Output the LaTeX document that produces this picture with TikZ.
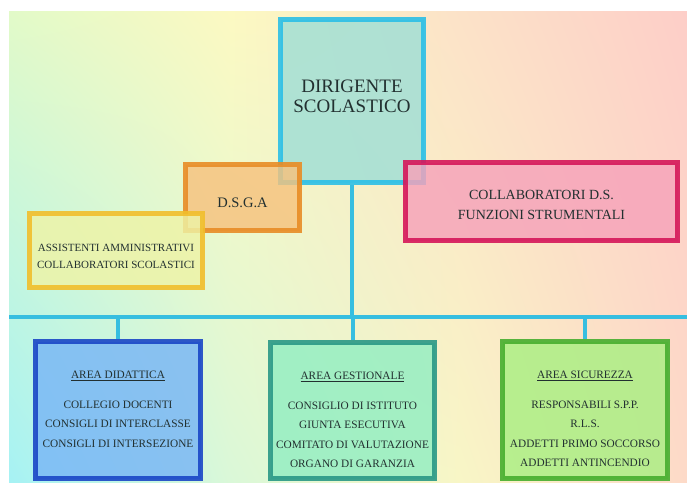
\documentclass[tikz,border=0pt]{standalone}
\usepackage{fontspec}
\setmainfont{Liberation Serif}
\usetikzlibrary{positioning,shadings}

\definecolor{dirFill}{HTML}{9FDFD6}
\definecolor{dirLine}{HTML}{2CBFE6}
\definecolor{dsgaFill}{HTML}{F6C27E}
\definecolor{dsgaLine}{HTML}{E88C26}
\definecolor{assFill}{HTML}{EEF3A6}
\definecolor{assLine}{HTML}{F1BE2C}
\definecolor{colFill}{HTML}{F6A2BA}
\definecolor{colLine}{HTML}{D5175A}
\definecolor{didFill}{HTML}{78B6F6}
\definecolor{didLine}{HTML}{1A46C6}
\definecolor{gesFill}{HTML}{92EEC2}
\definecolor{gesLine}{HTML}{2A9886}
\definecolor{sicFill}{HTML}{A9EF82}
\definecolor{sicLine}{HTML}{46AE2E}
\definecolor{busLine}{HTML}{36BEE0}
\definecolor{txt}{HTML}{223030}
% background corners
\definecolor{bgA}{HTML}{E2FAC8}
\definecolor{bgB}{HTML}{FCF9C2}
\definecolor{bgC}{HTML}{FCE2C8}
\definecolor{bgD}{HTML}{FDCEC8}
\definecolor{bgE}{HTML}{A6F2F4}
\definecolor{bgF}{HTML}{DAF8D8}
\definecolor{bgG}{HTML}{F8F6C6}
\definecolor{bgH}{HTML}{FDDAC8}

\tikzset{every picture/.style={line width=1pt}}
\tikzset{
  orgbox/.style={draw, line width=5pt, fill opacity=0.82, draw opacity=0.9, inner sep=0pt},
  boxtext/.style={text=txt, align=center, inner sep=0pt},
  areatext/.style={boxtext, font=\fontsize{11.3}{19.5}\selectfont},
  busline/.style={draw=busLine, line width=4pt},
}

\begin{document}
\begin{tikzpicture}[x=1pt,y=1pt,yscale=-1,xscale=1]
\useasboundingbox (0,0) rectangle (687,482);

%Background
\shade[upper left=bgA, upper right=bgB, lower left=bgE, lower right=bgF] (9,11) rectangle (230,482);
\shade[upper left=bgB, upper right=bgC, lower left=bgF, lower right=bgG] (230,11) rectangle (460,482);
\shade[upper left=bgC, upper right=bgD, lower left=bgG, lower right=bgH] (460,11) rectangle (687,482);

%Connectors
\coordinate (busL) at (9,317);
\coordinate (busR) at (687,317);
\draw[busline] (busL) -- (busR);

%Upper boxes
\node[orgbox, fill=dirFill, draw=dirLine, minimum width=143, minimum height=163] (dirigente) at (352,101) {};
\node[orgbox, fill=dsgaFill, draw=dsgaLine, minimum width=114, minimum height=66] (dsga) at (242.5,197.5) {};
\node[orgbox, fill=assFill, draw=assLine, minimum width=173, minimum height=74] (assistenti) at (116,250.5) {};
\node[orgbox, fill=colFill, draw=colLine, minimum width=272, minimum height=78] (collaboratori) at (541.5,201.5) {};

\draw[busline] (dirigente.south) -- (dirigente.south |- busL);

% Text Nodes
\node[boxtext, font=\fontsize{19}{20}\selectfont, shift={(0,5)}] (dirtext) at (dirigente.center) {DIRIGENTE\\SCOLASTICO};
\node[boxtext, font=\fontsize{14.5}{16}\selectfont, shift={(0,-5)}] (dsgatext) at (dsga.center) {D.S.G.A};
\node[boxtext, font=\fontsize{11}{17}\selectfont, shift={(0,-6)}] (asstext) at (assistenti.center) {ASSISTENTI AMMINISTRATIVI\\COLLABORATORI SCOLASTICI};
\node[boxtext, font=\fontsize{14}{20}\selectfont, shift={(0,-3)}] (coltext) at (collaboratori.center) {COLLABORATORI D.S.\\FUNZIONI STRUMENTALI};

%Area boxes
\node[orgbox, fill=didFill, draw=didLine, minimum width=165, minimum height=137] (didattica) at (118,410) {};
\node[orgbox, fill=gesFill, draw=gesLine, minimum width=164, minimum height=136] (gestionale) at (352.5,410.5) {};
\node[orgbox, fill=sicFill, draw=sicLine, minimum width=165, minimum height=137] (sicurezza) at (585,410) {};

\draw[busline] (didattica.north |- busL) -- (didattica.north);
\draw[busline] (gestionale.north |- busL) -- (gestionale.north);
\draw[busline] (sicurezza.north |- busL) -- (sicurezza.north);

\node[areatext, below=32 of didattica.north] (didtext)
  {\underline{AREA DIDATTICA}\\[10pt]COLLEGIO DOCENTI\\CONSIGLI DI INTERCLASSE\\CONSIGLI DI INTERSEZIONE};
\node[areatext, below=32 of gestionale.north] (gestext)
  {\underline{AREA GESTIONALE}\\[10pt]CONSIGLIO DI ISTITUTO\\GIUNTA ESECUTIVA\\COMITATO DI VALUTAZIONE\\ORGANO DI GARANZIA};
\node[areatext, below=32 of sicurezza.north] (sictext)
  {\underline{AREA SICUREZZA}\\[10pt]RESPONSABILI S.P.P.\\R.L.S.\\ADDETTI PRIMO SOCCORSO\\ADDETTI ANTINCENDIO};
\end{tikzpicture}
\end{document}
